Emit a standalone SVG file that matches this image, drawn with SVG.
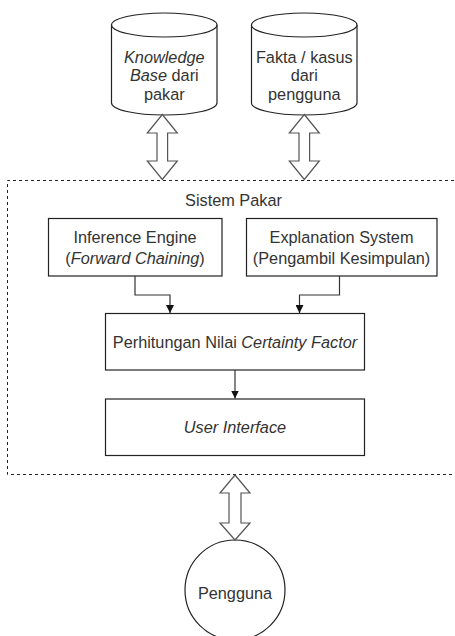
<svg xmlns="http://www.w3.org/2000/svg" width="455" height="636" viewBox="0 0 455 636">
<defs>
<style>
.t{font-family:"Liberation Sans",Arial,sans-serif;font-size:16.3px;fill:#333;text-anchor:middle;dominant-baseline:central}
.i{font-style:italic}
.box{fill:#fff;stroke:#222;stroke-width:1.2}
.dbl{fill:#fff;stroke:#555;stroke-width:1.2;stroke-linejoin:miter}
.con{fill:none;stroke:#333;stroke-width:1.2}
.dash{fill:none;stroke:#222;stroke-width:1;stroke-dasharray:3 3}
</style>
<marker id="ah" markerWidth="8" markerHeight="8" viewBox="0 0 8 8" refX="8" refY="4" orient="auto" markerUnits="userSpaceOnUse">
<path d="M0,0 L8,4 L0,8 Z" fill="#111"/>
</marker>
</defs>
<rect width="455" height="636" fill="#fff"/>

<g id="sistem-pakar">
<path class="dash" d="M460,180.5 H7.5 V474.5 H460"/>
<text class="t" x="233.5" y="200">Sistem Pakar</text>
</g>

<g id="kb">
<path class="box" d="M111.5,25 A52.75,12 0 0 1 217,25 V103 A52.75,12 0 0 1 111.5,103 Z"/>
<path class="box" fill="none" d="M111.5,25 A52.75,12 0 0 0 217,25"/>
<text class="t" x="164.3" y="56.5"><tspan class="i">Knowledge</tspan></text>
<text class="t" x="164.3" y="75"><tspan class="i">Base</tspan> dari</text>
<text class="t" x="164.3" y="93.5">pakar</text>
</g>

<g id="fakta">
<path class="box" d="M251.5,25 A52.75,12 0 0 1 357,25 V103 A52.75,12 0 0 1 251.5,103 Z"/>
<path class="box" fill="none" d="M251.5,25 A52.75,12 0 0 0 357,25"/>
<text class="t" x="304.3" y="56.5">Fakta / kasus</text>
<text class="t" x="304.3" y="75">dari</text>
<text class="t" x="304.3" y="93.5">pengguna</text>
</g>

<g id="inference">
<rect class="box" x="48.5" y="218.5" width="173.5" height="57.5"/>
<text class="t" x="135" y="236.5">Inference Engine</text>
<text class="t" x="135" y="257.5">(<tspan class="i">Forward Chaining</tspan>)</text>
</g>

<g id="explanation">
<rect class="box" x="246.5" y="218.5" width="190.5" height="57.5"/>
<text class="t" x="341.5" y="236.5">Explanation System</text>
<text class="t" x="341.5" y="257.5">(Pengambil Kesimpulan)</text>
</g>

<g id="cf">
<rect class="box" x="105.5" y="313.5" width="259" height="56.5"/>
<text class="t" x="235" y="341.5">Perhitungan Nilai <tspan class="i">Certainty Factor</tspan></text>
</g>

<g id="ui">
<rect class="box" x="105.5" y="399" width="259" height="56.5"/>
<text class="t" x="235" y="427"><tspan class="i">User Interface</tspan></text>
</g>

<g id="pengguna">
<circle class="box" cx="235" cy="590" r="50"/>
<text class="t" x="235" y="593">Pengguna</text>
</g>

<g id="connectors">
<path class="con" d="M135,276 V295 H170 V313" marker-end="url(#ah)"/>
<path class="con" d="M339.5,276 V295 H299.5 V313" marker-end="url(#ah)"/>
<path class="con" d="M235,370 V398.5" marker-end="url(#ah)"/>
<path class="dbl" d="M162.3,114.5 L177.3,133 H167.6 V161 H177.3 L162.3,179.5 L147.3,161 H157 V133 H147.3 Z"/>
<path class="dbl" d="M304.3,114.5 L319.3,133 H309.6 V161 H319.3 L304.3,179.5 L289.3,161 H299 V133 H289.3 Z"/>
<path class="dbl" d="M235,475 L250,493 H241 V523 H250 L235,540 L220,523 H229 V493 H220 Z"/>
</g>
</svg>
